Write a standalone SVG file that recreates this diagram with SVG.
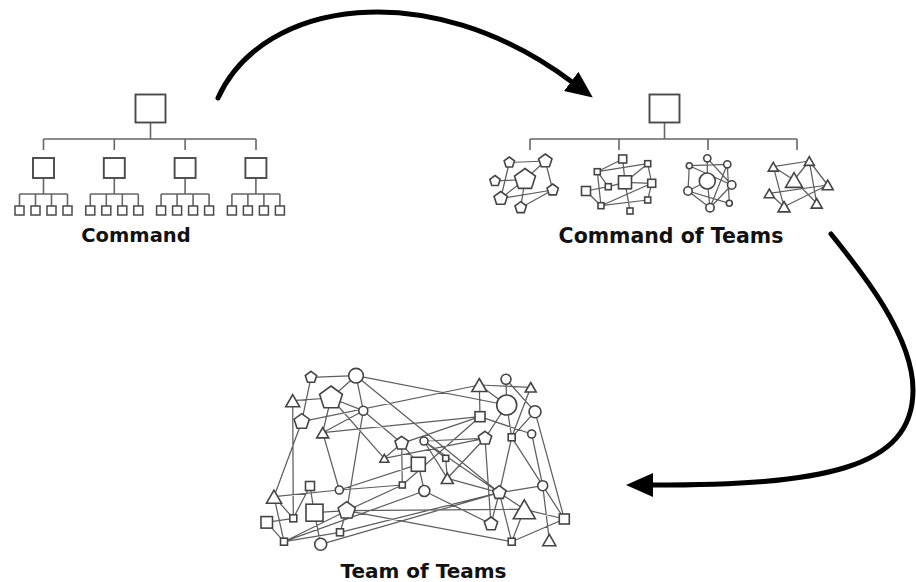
<svg xmlns="http://www.w3.org/2000/svg" width="916" height="582" viewBox="0 0 916 582">
<defs>
<style>
.bg{fill:#fff}
.tl{stroke:#666;stroke-width:1.6;fill:none}
.bx{fill:#fff;stroke:#4a4a4a;stroke-width:1.9}
.sb{fill:#fff;stroke:#4a4a4a;stroke-width:1.5}
.e{stroke:#5e5e5e;stroke-width:1.25;fill:none}
.n{fill:#fff;stroke:#444;stroke-width:1.6}
.arr{fill:none;stroke:#000;stroke-width:5;stroke-linecap:round}
.lbl{font-family:"DejaVu Sans","Liberation Sans",sans-serif;font-weight:bold;fill:#111;text-anchor:middle}
</style>
<marker id="ah" viewBox="0 0 27 24" markerWidth="27" markerHeight="24" refX="1" refY="12" orient="auto" markerUnits="userSpaceOnUse">
<path d="M0,0 L27,12 L0,24 Z" fill="#000"/>
</marker>
</defs>
<rect class="bg" width="916" height="582"/>

<g id="connectors">
<path class="arr" d="M218,98 C262,0 428,-26 572,82" marker-end="url(#ah)"/>
<path class="arr" d="M831,234 C860,270 913,335 913,390 C913,470 820,485 652,485" marker-end="url(#ah)"/>

<path class="tl" d="M150.5,122 V139 M43.5,139 H256 M43.5,139 V150 M114.3,139 V150 M185.1,139 V150 M256,139 V150"/>
<path class="tl" d="M43.5,178 V194 M19.5,194 H67.5 M19.5,194 V206 M35.5,194 V206 M51.5,194 V206 M67.5,194 V206"/>
<path class="tl" d="M114.3,178 V194 M90.3,194 H138.3 M90.3,194 V206 M106.3,194 V206 M122.3,194 V206 M138.3,194 V206"/>
<path class="tl" d="M185.1,178 V194 M161.1,194 H209.1 M161.1,194 V206 M177.1,194 V206 M193.1,194 V206 M209.1,194 V206"/>
<path class="tl" d="M255.9,178 V194 M231.9,194 H279.9 M231.9,194 V206 M247.9,194 V206 M263.9,194 V206 M279.9,194 V206"/>

<path class="tl" d="M664.5,122 V139 M530,139 H797 M530,139 V150 M619,139 V150 M708,139 V150 M797,139 V150"/>

<path class="e" d="M509.3,162.5 L545.3,161 M509.3,162.5 L500.7,198.5 M495,181 L525,179.5 M545.3,161 L552.7,190 M525,179.5 L500.7,198.5 M500.7,198.5 L552.7,190 M520.7,207.7 L552.7,190 M525,179.5 L520.7,207.7 M525,179.5 L545.3,161"/>
<path class="e" d="M622.7,159 L625,182.3 M597.3,171.7 L647.7,163.7 M647.7,163.7 L651.7,183.3 M597.3,171.7 L601,205.7 M586,191 L608.3,186.7 M608.3,186.7 L625,182.3 M625,182.3 L651.7,183.3 M597.3,171.7 L608.3,186.7 M601,205.7 L651.7,183.3 M625,182.3 L630,211 M647.7,200 L651.7,183.3 M586,191 L601,205.7 M647.7,163.7 L625,182.3 M601,205.7 L647.7,200 M622.7,159 L597.3,171.7"/>
<path class="e" d="M707.3,158.3 L707.3,181 M689.3,165.7 L727.3,164.3 M689.3,165.7 L688,191 M689.3,165.7 L731.7,185 M727.3,164.3 L729.3,203.3 M707.3,181 L710,207.7 M688,191 L710,207.7 M688,191 L729.3,203.3 M727.3,164.3 L710,207.7 M707.3,158.3 L731.7,185 M707.3,181 L688,191 M731.7,185 L710,207.7"/>
<path class="e" d="M773.3,166.7 L809.3,161 M773.3,166.7 L784,206.7 M809.3,161 L827.7,185 M809.3,161 L816.7,203.3 M769.3,193.3 L827.7,185 M784,206.7 L827.7,185 M794,180 L816.7,203.3 M773.3,166.7 L794,180 M809.3,161 L794,180 M769.3,193.3 L784,206.7"/>

<path class="e" d="
M311,377.3 L356,375.7 M311,377.3 L301.7,421.7 M356,375.7 L331,398 M356,375.7 L363.3,410.7
M356,375.7 L506.7,405 M356,375.7 L499.3,492.7 M292.7,400.7 L331,398 M292.7,400.7 L293.3,518.3
M331,398 L322.7,432.7 M331,398 L384.3,458.3 M331,398 L363.3,410.7 M363.3,410.7 L322.7,432.7
M363.3,410.7 L346.7,510.7 M363.3,410.7 L401.7,443.3 M301.7,421.7 L479.3,385 M301.7,421.7 L274,496.7
M322.7,432.7 L480,416.7 M322.7,432.7 L339.3,490 M479.3,385 L480,416.7 M479.3,385 L530.7,387.3
M479.3,385 L506.7,405 M506,379.3 L506.7,405 M506,379.3 L535,411.7 M530.7,387.3 L511.7,437.3
M506.7,405 L511.7,437.3 M506.7,405 L485,438.3 M535,411.7 L511.7,437.3 M535,411.7 L564.3,519
M480,416.7 L531.7,434 M480,416.7 L401.7,443.3 M480,416.7 L402.3,485 M531.7,434 L542.7,485.7
M511.7,437.3 L542.7,485.7 M511.7,437.3 L499.3,492.7 M485,438.3 L424,441 M485,438.3 L491,524
M485,438.3 L447.3,478.3 M384.3,458.3 L485,438.3 M401.7,443.3 L384.3,458.3 M401.7,443.3 L418.3,464.3
M401.7,443.3 L402.3,485 M424,441 L445.7,458.3 M424,441 L447.3,478.3 M424,441 L499.3,492.7
M418.3,464.3 L424.3,491 M418.3,464.3 L339.3,490 M402.3,485 L346.7,510.7 M402.3,485 L339.3,490
M424.3,491 L491,524 M447.3,478.3 L499.3,492.7 M542.7,485.7 L499.3,492.7 M542.7,485.7 L549.3,540
M542.7,485.7 L564.3,519 M499.3,492.7 L524.3,509.3 M499.3,492.7 L491,524 M499.3,492.7 L511.7,541.7
M524.3,509.3 L564.3,519 M524.3,509.3 L511.7,541.7 M511.7,541.7 L564.3,519 M274,496.7 L293.3,518.3
M274,496.7 L284,541.7 M274,496.7 L339.3,490 M310,486 L314.3,512.7 M310,486 L293.3,518.3
M266.7,522.3 L293.3,518.3 M266.7,522.3 L284,541.7 M314.3,512.7 L346.7,510.7 M314.3,512.7 L320.7,544.3
M284,541.7 L346.7,510.7 M284,541.7 L340,532.3 M284,541.7 L424.3,491 M340,532.3 L346.7,510.7
M340,532.3 L499.3,492.7 M320.7,544.3 L499.3,492.7 M346.7,510.7 L524.3,509.3 M346.7,510.7 L511.7,541.7
M445.7,458.3 L447.3,478.3"/>
</g>

<g id="command">
<rect id="cmd-top" class="bx" x="135.5" y="94.5" width="30" height="28"/>
<rect id="cmd-m1" class="bx" x="33" y="158" width="21" height="20"/>
<rect id="cmd-m2" class="bx" x="103.8" y="158" width="21" height="20"/>
<rect id="cmd-m3" class="bx" x="174.6" y="158" width="21" height="20"/>
<rect id="cmd-m4" class="bx" x="245.4" y="158" width="21" height="20"/>
<g id="cmd-leaves1">
<rect class="sb" x="15" y="206" width="9" height="9"/><rect class="sb" x="31" y="206" width="9" height="9"/><rect class="sb" x="47" y="206" width="9" height="9"/><rect class="sb" x="63" y="206" width="9" height="9"/>
</g>
<g id="cmd-leaves2">
<rect class="sb" x="85.8" y="206" width="9" height="9"/><rect class="sb" x="101.8" y="206" width="9" height="9"/><rect class="sb" x="117.8" y="206" width="9" height="9"/><rect class="sb" x="133.8" y="206" width="9" height="9"/>
</g>
<g id="cmd-leaves3">
<rect class="sb" x="156.6" y="206" width="9" height="9"/><rect class="sb" x="172.6" y="206" width="9" height="9"/><rect class="sb" x="188.6" y="206" width="9" height="9"/><rect class="sb" x="204.6" y="206" width="9" height="9"/>
</g>
<g id="cmd-leaves4">
<rect class="sb" x="227.4" y="206" width="9" height="9"/><rect class="sb" x="243.4" y="206" width="9" height="9"/><rect class="sb" x="259.4" y="206" width="9" height="9"/><rect class="sb" x="275.4" y="206" width="9" height="9"/>
</g>
<text id="lbl-command" class="lbl" x="136" y="242" font-size="19.5">Command</text>
</g>

<g id="command-of-teams">
<rect id="cot-top" class="bx" x="649.5" y="94.5" width="30" height="28"/>
<g id="team-pentagons">
<polygon class="n" points="509.3,157 514.5,160.8 512.5,167 506.1,167 504.1,160.8"/>
<polygon class="n" points="545.3,154 552,158.8 549.4,166.7 541.2,166.7 538.6,158.8"/>
<polygon class="n" points="525,168.5 535.5,176.1 531.5,188.4 518.5,188.4 514.5,176.1"/>
<polygon class="n" points="495,175.5 500.2,179.3 498.2,185.5 491.8,185.5 489.8,179.3"/>
<polygon class="n" points="552.7,184 558.4,188.1 556.2,194.9 549.2,194.9 547,188.1"/>
<polygon class="n" points="500.7,191.5 507.4,196.3 504.8,204.2 496.6,204.2 494,196.3"/>
<polygon class="n" points="520.7,201.7 526.4,205.8 524.2,212.6 517.2,212.6 515,205.8"/>
</g>
<g id="team-squares">
<rect class="n" x="618.7" y="155" width="8" height="8"/>
<rect class="n" x="644.7" y="160.7" width="6" height="6"/>
<rect class="n" x="594.3" y="168.7" width="6" height="6"/>
<rect class="n" x="618.5" y="175.8" width="13" height="13"/>
<rect class="n" x="581.5" y="186.5" width="9" height="9"/>
<rect class="n" x="605.3" y="183.7" width="6" height="6"/>
<rect class="n" x="647.7" y="179.3" width="8" height="8"/>
<rect class="n" x="598" y="202.7" width="6" height="6"/>
<rect class="n" x="627" y="208" width="6" height="6"/>
<rect class="n" x="644.7" y="197" width="6" height="6"/>
</g>
<g id="team-circles">
<circle class="n" cx="707.3" cy="158.3" r="3.6"/>
<circle class="n" cx="689.3" cy="165.7" r="3"/>
<circle class="n" cx="727.3" cy="164.3" r="3.6"/>
<circle class="n" cx="707.3" cy="181" r="8"/>
<circle class="n" cx="688" cy="191" r="4.2"/>
<circle class="n" cx="731.7" cy="185" r="4.2"/>
<circle class="n" cx="710" cy="207.7" r="4.2"/>
<circle class="n" cx="729.3" cy="203.3" r="3"/>
</g>
<g id="team-triangles">
<polygon class="n" points="773.3,162.4 778.3,171.1 768.3,171.1"/>
<polygon class="n" points="809.3,156.7 814.3,165.4 804.3,165.4"/>
<polygon class="n" points="794,172.6 802.5,187.4 785.5,187.4"/>
<polygon class="n" points="827.7,180.2 833.2,189.8 822.2,189.8"/>
<polygon class="n" points="769.3,189 774.3,197.7 764.3,197.7"/>
<polygon class="n" points="784,201.5 790,211.9 778,211.9"/>
<polygon class="n" points="816.7,198.5 822.2,208.1 811.2,208.1"/>
</g>
<text id="lbl-cot" class="lbl" x="671" y="243" font-size="20.5">Command of Teams</text>
</g>

<g id="team-of-teams">
<polygon id="t1" class="n" points="311,371.3 316.7,375.5 314.5,382.2 307.5,382.2 305.3,375.5"/>
<polygon id="t4" class="n" points="331,386 342.4,394.3 338.1,407.7 323.9,407.7 319.6,394.3"/>
<polygon id="t6" class="n" points="301.7,413.7 309.3,419.2 306.4,428.2 297,428.2 294.1,419.2"/>
<polygon id="t16" class="n" points="485,431.3 491.7,436.1 489.1,444 480.9,444 478.3,436.1"/>
<polygon id="t17" class="n" points="401.7,436.3 408.4,441.1 405.8,449 397.6,449 395,441.1"/>
<polygon id="t27" class="n" points="499.3,485.7 506,490.5 503.4,498.4 495.2,498.4 492.6,490.5"/>
<polygon id="t33" class="n" points="346.7,501.7 355.3,507.9 352,518 341.4,518 338.1,507.9"/>
<polygon id="t36" class="n" points="491,517 497.7,521.8 495.1,529.7 486.9,529.7 484.3,521.8"/>
<circle id="t2" class="n" cx="356" cy="375.7" r="7.3"/>
<circle id="t5" class="n" cx="363.3" cy="410.7" r="4.5"/>
<circle id="t9" class="n" cx="506" cy="379.3" r="5"/>
<circle id="t11" class="n" cx="506.7" cy="405" r="10"/>
<circle id="t12" class="n" cx="535" cy="411.7" r="6"/>
<circle id="t14" class="n" cx="531.7" cy="434" r="4"/>
<circle id="t18" class="n" cx="424" cy="441" r="4"/>
<circle id="t24" class="n" cx="424.3" cy="491" r="5.5"/>
<circle id="t25" class="n" cx="339.3" cy="490" r="4"/>
<circle id="t26" class="n" cx="542.7" cy="485.7" r="5"/>
<circle id="t39" class="n" cx="320.7" cy="544.3" r="6"/>
<rect id="t13" class="n" x="475" y="411.7" width="10" height="10"/>
<rect id="t15" class="n" x="508.2" y="433.8" width="7" height="7"/>
<rect id="t20" class="n" x="442.7" y="455.3" width="6" height="6"/>
<rect id="t21" class="n" x="411.3" y="457.3" width="14" height="14"/>
<rect id="t23" class="n" x="399.3" y="482" width="6" height="6"/>
<rect id="t28" class="n" x="305.5" y="481.5" width="9" height="9"/>
<rect id="t30" class="n" x="306" y="504.2" width="17" height="17"/>
<rect id="t31" class="n" x="289.8" y="514.8" width="7" height="7"/>
<rect id="t32" class="n" x="261" y="516.6" width="11.5" height="11.5"/>
<rect id="t35" class="n" x="559.3" y="514" width="10" height="10"/>
<rect id="t37" class="n" x="336.5" y="528.8" width="7" height="7"/>
<rect id="t38" class="n" x="280.5" y="538.2" width="7" height="7"/>
<rect id="t40" class="n" x="508.2" y="538.2" width="7" height="7"/>
<polygon id="t3" class="n" points="292.7,394.6 299.7,406.8 285.7,406.8"/>
<polygon id="t7" class="n" points="322.7,427.5 328.7,437.9 316.7,437.9"/>
<polygon id="t8" class="n" points="479.3,378.5 486.8,391.5 471.8,391.5"/>
<polygon id="t10" class="n" points="530.7,382.5 536.2,392 525.2,392"/>
<polygon id="t19" class="n" points="384.3,454.4 388.8,462.2 379.8,462.2"/>
<polygon id="t22" class="n" points="447.3,473.1 453.3,483.5 441.3,483.5"/>
<polygon id="t29" class="n" points="274,490.2 281.5,503.2 266.5,503.2"/>
<polygon id="t34" class="n" points="524.3,499.8 535.3,518.8 513.3,518.8"/>
<polygon id="t41" class="n" points="549.3,534.4 555.8,545.7 542.8,545.7"/>
<text id="lbl-tot" class="lbl" x="423.5" y="578" font-size="20">Team of Teams</text>
</g>
</svg>
